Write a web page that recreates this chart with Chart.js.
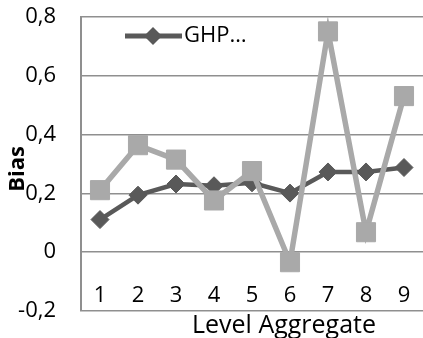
<!DOCTYPE html>
<html>
<head>
<meta charset="utf-8">
<script src="https://cdn.jsdelivr.net/npm/chart.js@4"></script>
<style>
  html, body { margin: 0; padding: 0; background: #fff; }
  #wrap { width: 423px; height: 338px; }
</style>
</head>
<body>
<div id="wrap"><canvas id="chart" width="423" height="338"></canvas></div>
<script>
'use strict';

var categories = ['1', '2', '3', '4', '5', '6', '7', '8', '9'];
var ghpValues = [0.111, 0.194, 0.232, 0.226, 0.236, 0.201, 0.273, 0.273, 0.288];
var otherValues = [0.211, 0.364, 0.315, 0.176, 0.276, -0.034, 0.751, 0.068, 0.531];
var yMin = -0.2, yMax = 0.8, yStep = 0.2;

var darkGrey = '#595959';
var lightGrey = '#a9a9a9';
var gridGrey = '#8f8f8f';
var fontFamily = '"Open Sans", "DejaVu Sans", sans-serif';

// axis titles and the (truncated) legend entry, placed like the Excel original
var chartText = {
    id: 'chartText',
    afterDraw: function (chart) {
        var ctx = chart.ctx;
        var area = chart.chartArea;
        ctx.save();

        // legend key: line with a diamond
        var ly = area.top + 19;
        ctx.strokeStyle = darkGrey;
        ctx.lineWidth = 5;
        ctx.beginPath();
        ctx.moveTo(125, ly);
        ctx.lineTo(182, ly);
        ctx.stroke();
        ctx.fillStyle = darkGrey;
        ctx.beginPath();
        ctx.moveTo(153, ly - 9);
        ctx.lineTo(162, ly);
        ctx.lineTo(153, ly + 9);
        ctx.lineTo(144, ly);
        ctx.closePath();
        ctx.fill();

        ctx.fillStyle = '#000';
        ctx.font = '22px ' + fontFamily;
        ctx.textAlign = 'left';
        ctx.textBaseline = 'middle';
        ctx.fillText(chart.data.datasets[0].label, 184, ly);

        ctx.font = '25px ' + fontFamily;
        ctx.textAlign = 'center';
        ctx.textBaseline = 'alphabetic';
        ctx.fillText('Level Aggregate', 284, 333);

        ctx.translate(18, 169);
        ctx.rotate(-Math.PI / 2);
        ctx.font = 'bold 22px ' + fontFamily;
        ctx.textBaseline = 'middle';
        ctx.fillText('Bias', 0, 0);
        ctx.restore();
    }
};

function noPadding(scale) {
    scale.paddingTop = 0;
    scale.paddingBottom = 0;
    scale.paddingLeft = 0;
    scale.paddingRight = 0;
}

var chart = new Chart(document.getElementById('chart').getContext('2d'), {
    type: 'line',
    data: {
        labels: categories,
        datasets: [
            {
                label: 'GHP…',
                data: ghpValues,
                borderColor: darkGrey,
                backgroundColor: darkGrey,
                borderWidth: 4.5,
                pointStyle: 'rectRot',
                pointRadius: 9,
                pointBorderWidth: 1,
                pointBackgroundColor: darkGrey,
                pointBorderColor: darkGrey,
                tension: 0,
                order: 1
            },
            {
                label: 'Series 2',
                data: otherValues,
                borderColor: lightGrey,
                backgroundColor: lightGrey,
                borderWidth: 5.5,
                pointStyle: 'rect',
                pointRadius: 13.5,
                pointBorderWidth: 1,
                pointBackgroundColor: lightGrey,
                pointBorderColor: lightGrey,
                tension: 0,
                order: 0
            }
        ]
    },
    options: {
        responsive: false,
        animation: false,
        layout: { autoPadding: false, padding: { left: 0, top: 17, right: -4, bottom: 27 } },
        scales: {
            x: {
                type: 'category',
                offset: true,
                position: { y: 0 },
                grid: { display: false, drawTicks: false },
                border: { display: false },
                afterFit: function (scale) { noPadding(scale); scale.height = 0; },
                ticks: {
                    color: '#000',
                    padding: 30,
                    maxRotation: 0,
                    autoSkip: false,
                    font: { family: fontFamily, size: 22 }
                }
            },
            y: {
                min: yMin,
                max: yMax,
                grid: { color: gridGrey, lineWidth: 1.5, drawTicks: false },
                border: { display: true, color: gridGrey, width: 2 },
                afterFit: function (scale) { noPadding(scale); scale.width = 81; },
                ticks: {
                    stepSize: yStep,
                    color: '#000',
                    padding: 25,
                    font: { family: fontFamily, size: 22 },
                    callback: function (value) {
                        var v = Math.round(value * 10) / 10;
                        return String(v).replace('.', ',');
                    }
                }
            }
        },
        plugins: {
            legend: { display: false },
            tooltip: { enabled: false }
        }
    },
    plugins: [chartText]
});
</script>
</body>
</html>
